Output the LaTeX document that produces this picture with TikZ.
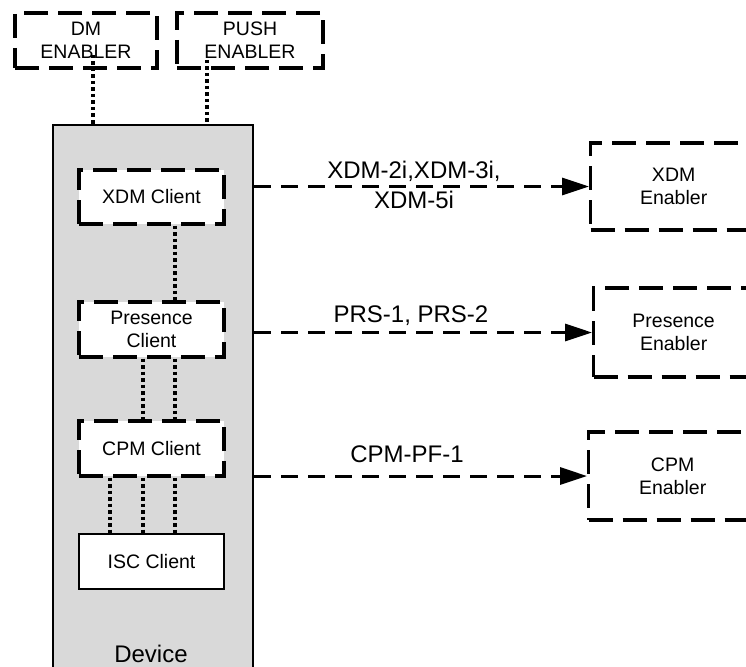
\documentclass[tikz,border=0pt]{standalone}
\usepackage{fontspec}
\setmainfont{Liberation Sans}
\usetikzlibrary{arrows.meta}
\definecolor{devgray}{HTML}{D9D9D9}
\newcommand\fsmall{\fontsize{19.5}{23}\selectfont}
\newcommand\flarge{\fontsize{24}{30}\selectfont}
\tikzset{
  dbox/.style={draw=black, line width=3.3pt, dash pattern=on 24pt off 10pt, fill=white,
    inner sep=0pt, align=center, font=\fsmall},
  sbox/.style={draw=black, line width=2.6pt, fill=white, inner sep=0pt, align=center, font=\fsmall},
  devbox/.style={draw=black, line width=2.8pt, fill=devgray, inner sep=0pt},
  dotline/.style={line width=3.2pt, dash pattern=on 3.5pt off 3pt},
  arr/.style={line width=3pt, dash pattern=on 17pt off 10pt,
    -{Triangle[length=27pt,width=17pt]}, shorten >=0pt},
  lbl/.style={font=\flarge, anchor=base, inner sep=0pt},
}
\begin{document}
\begin{tikzpicture}[x=1pt,y=-1pt]
\useasboundingbox (0,0) rectangle (746,666);
\clip (0,0) rectangle (746,666);
% top enablers
\node[dbox, minimum width=142pt, minimum height=55pt] (dm) at (86,40.5) {DM\\ENABLER};
\node[dbox, minimum width=146pt, minimum height=55pt] (push) at (250,40.5) {PUSH\\ENABLER};
% device
\node[devbox, minimum width=200pt, minimum height=575pt] (dev) at (153,412.5) {};
\node[lbl] (devlbl) at (151,662) {Device};
% clients
\node[dbox, minimum width=145pt, minimum height=54pt] (xdmc) at (151.5,197) {XDM Client};
\node[dbox, minimum width=145pt, minimum height=55pt] (presc) at (151.5,329.5) {Presence\\Client};
\node[dbox, minimum width=145pt, minimum height=55pt] (cpmc) at (151.5,448.5) {CPM Client};
\node[sbox, minimum width=145pt, minimum height=55pt] (iscc) at (151.5,561.5) {ISC Client};
% remote enablers (cut by the right edge)
\node[dbox, minimum width=166pt, minimum height=87pt, anchor=west] (xdme) at (589,186.5) {XDM\\Enabler};
\node[dbox, minimum width=160pt, minimum height=89pt, anchor=west] (prese) at (592,332.5) {Presence\\Enabler};
\node[dbox, minimum width=168pt, minimum height=88pt, anchor=west] (cpme) at (587,476) {CPM\\Enabler};
% column coordinates
\coordinate (cA) at (110,0);
\coordinate (cB) at (143,0);
\coordinate (cC) at (175,0);
\coordinate (dmdot) at (93,55);
\coordinate (pushdot) at (207,60);
% dotted links
\draw[dotline] (dmdot) -- (dmdot |- dev.north);
\draw[dotline] (pushdot) -- (pushdot |- dev.north);
\draw[dotline] (cC |- xdmc.south) -- (cC |- presc.north);
\draw[dotline] (cB |- presc.south) -- (cB |- cpmc.north);
\draw[dotline] (cC |- presc.south) -- (cC |- cpmc.north);
\draw[dotline] (cA |- cpmc.south) -- (cA |- iscc.north);
\draw[dotline] (cB |- cpmc.south) -- (cB |- iscc.north);
\draw[dotline] (cC |- cpmc.south) -- (cC |- iscc.north);
% arrows
\draw[arr] (dev.east |- xdme.west) -- (xdme.west);
\draw[arr] (dev.east |- prese.west) -- (prese.west);
\draw[arr] (dev.east |- cpme.west) -- (cpme.west);
% labels
\node[lbl] (lx1) at (414,178) {XDM-2i,XDM-3i,};
\node[lbl] (lx2) at (414,208) {XDM-5i};
\node[lbl] (lp) at (411,322) {PRS-1, PRS-2};
\node[lbl] (lc) at (407,462) {CPM-PF-1};
\end{tikzpicture}
\end{document}
